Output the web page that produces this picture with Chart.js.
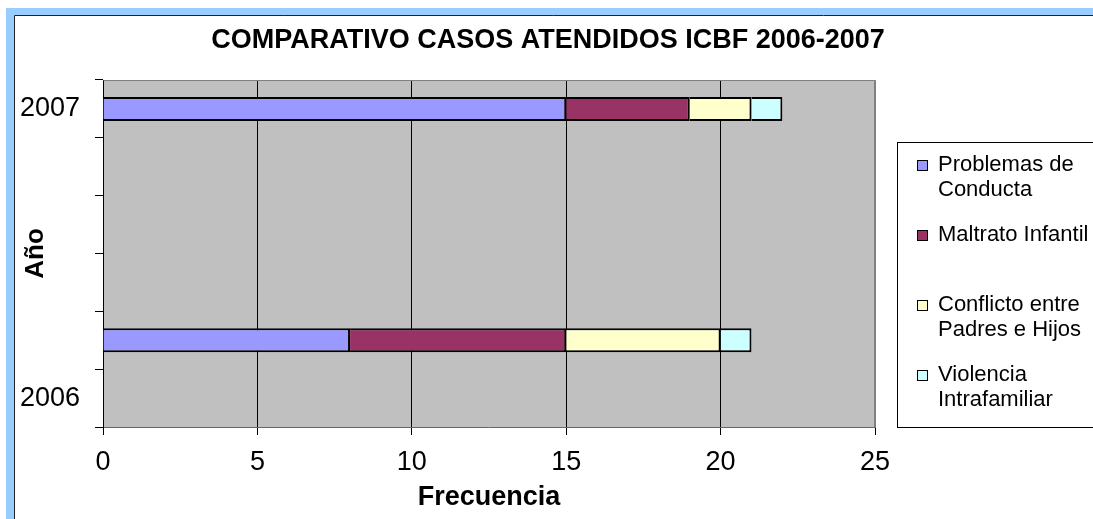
<!DOCTYPE html>
<html><head><meta charset="utf-8">
<script src="https://cdn.jsdelivr.net/npm/chart.js@4.4.0/dist/chart.umd.min.js"></script>
<style>html,body{margin:0;padding:0;background:#fff;overflow:hidden}#wrap{width:1093px;height:519px;position:relative}</style>
</head><body><div id="wrap"><canvas id="c" width="1093" height="519"></canvas></div>
<script>
const chartTitle = 'COMPARATIVO CASOS ATENDIDOS ICBF 2006-2007';
const xAxisTitle = 'Frecuencia';
const yAxisTitle = 'Año';
const categories = ['2007', '', '', '', '', '2006'];
const seriesNames = ['Problemas de Conducta', 'Maltrato Infantil', 'Conflicto entre Padres e Hijos', 'Violencia Intrafamiliar'];
const problemasConducta = [15, null, null, null, 8, null];
const maltratoInfantil = [4, null, null, null, 7, null];
const conflictoPadresHijos = [2, null, null, null, 5, null];
const violenciaIntrafamiliar = [1, null, null, null, 1, null];
const xTicks = [0, 5, 10, 15, 20, 25];
const seriesColors = ['#9999FF', '#993366', '#FFFFCC', '#CCFFFF'];

const FONT = "'Liberation Sans', Arial, Helvetica, sans-serif";
const seriesValues = [problemasConducta, maltratoInfantil, conflictoPadresHijos, violenciaIntrafamiliar];

const framePlugin = {
  id: 'frame',
  beforeDraw(chart) {
    const ctx = chart.ctx, W = chart.width, H = chart.height, a = chart.chartArea;
    ctx.save();
    ctx.fillStyle = '#fff';
    ctx.fillRect(0, 0, W, H);
    ctx.fillStyle = '#99CCFF';
    ctx.fillRect(6, 8, W - 6, 7);
    ctx.fillRect(6, 8, 8, H - 8);
    ctx.strokeStyle = '#222';
    ctx.lineWidth = 1;
    ctx.beginPath();
    ctx.moveTo(14.5, H); ctx.lineTo(14.5, 15.5); ctx.lineTo(W, 15.5);
    ctx.stroke();
    ctx.fillStyle = '#C0C0C0';
    ctx.fillRect(a.left, a.top, a.right - a.left, a.bottom - a.top);
    ctx.restore();
  },
  beforeDatasetsDraw(chart) {
    const ctx = chart.ctx, a = chart.chartArea;
    ctx.save();
    ctx.strokeStyle = '#808080';
    ctx.lineWidth = 1;
    ctx.beginPath();
    ctx.moveTo(Math.round(a.left) + 0.5, Math.round(a.top) + 0.5);
    ctx.lineTo(Math.round(a.right) - 0.5, Math.round(a.top) + 0.5);
    ctx.lineTo(Math.round(a.right) - 0.5, Math.round(a.bottom));
    ctx.stroke();
    ctx.restore();
  },
  afterDraw(chart) {
    const ctx = chart.ctx;
    ctx.save();
    // title
    ctx.fillStyle = '#000';
    ctx.font = 'bold 27px ' + FONT;
    ctx.textAlign = 'center';
    ctx.textBaseline = 'middle';
    ctx.fillText(chartTitle, 548, 41);
    // legend box
    const bx = 897, by = 142, bb = 427;
    ctx.strokeStyle = '#000';
    ctx.lineWidth = 1;
    ctx.strokeRect(bx + 0.5, by + 0.5, chart.width + 20, bb - by);
    ctx.font = '22px ' + FONT;
    ctx.textAlign = 'left';
    const maxW = 153;
    chart.data.datasets.forEach((ds, i) => {
      const y0 = 165 + 70 * i;
      ctx.fillStyle = ds.backgroundColor;
      ctx.fillRect(917, y0 - 5, 11, 11);
      ctx.strokeStyle = '#000';
      ctx.strokeRect(917.5, y0 - 4.5, 10, 10);
      const words = ds.label.split(' ');
      const lines = [];
      let cur = '';
      words.forEach(w => {
        const t = cur ? cur + ' ' + w : w;
        if (ctx.measureText(t).width > maxW && cur) { lines.push(cur); cur = w; } else { cur = t; }
      });
      if (cur) lines.push(cur);
      ctx.fillStyle = '#000';
      lines.forEach((ln, j) => ctx.fillText(ln, 938, y0 + 25 * j));
    });
    ctx.restore();
  }
};

new Chart(document.getElementById('c'), {
  type: 'bar',
  data: {
    labels: categories,
    datasets: seriesNames.map((name, i) => ({
      label: name,
      data: seriesValues[i],
      backgroundColor: seriesColors[i],
      borderColor: '#000',
      borderWidth: 2,
      barPercentage: 0.415,
      categoryPercentage: 1.0
    }))
  },
  options: {
    indexAxis: 'y',
    responsive: false,
    animation: false,
    devicePixelRatio: 1,
    layout: { padding: { top: 80, left: 15, right: 218, bottom: 0 } },
    plugins: { legend: { display: false }, title: { display: false }, tooltip: { enabled: false } },
    scales: {
      x: {
        stacked: true,
        min: xTicks[0],
        max: xTicks[xTicks.length - 1],
        ticks: { stepSize: xTicks[1] - xTicks[0], color: '#000', font: { family: FONT, size: 27 }, padding: 11 },
        grid: {
          color: c => (c.tick && c.tick.value === xTicks[xTicks.length - 1]) ? '#808080' : '#000',
          tickColor: '#000', tickLength: 8, lineWidth: 1
        },
        border: { color: '#666', width: 1 },
        title: { display: true, text: xAxisTitle, color: '#000', font: { family: FONT, size: 27, weight: 'bold' }, padding: { top: 4, bottom: 5 } },
        afterFit: s => { s.height = 92; }
      },
      y: {
        stacked: true,
        ticks: { autoSkip: false, color: '#000', font: { family: FONT, size: 27 }, padding: 15 },
        grid: { drawOnChartArea: false, color: '#000', tickLength: 8, offset: true },
        border: { color: '#000', width: 1 },
        title: { display: true, text: yAxisTitle, color: '#000', font: { family: FONT, size: 26, weight: 'bold' }, padding: { top: 5, bottom: 4 } },
        afterFit: s => { s.width = 88; }
      }
    }
  },
  plugins: [framePlugin]
});
</script></body></html>
